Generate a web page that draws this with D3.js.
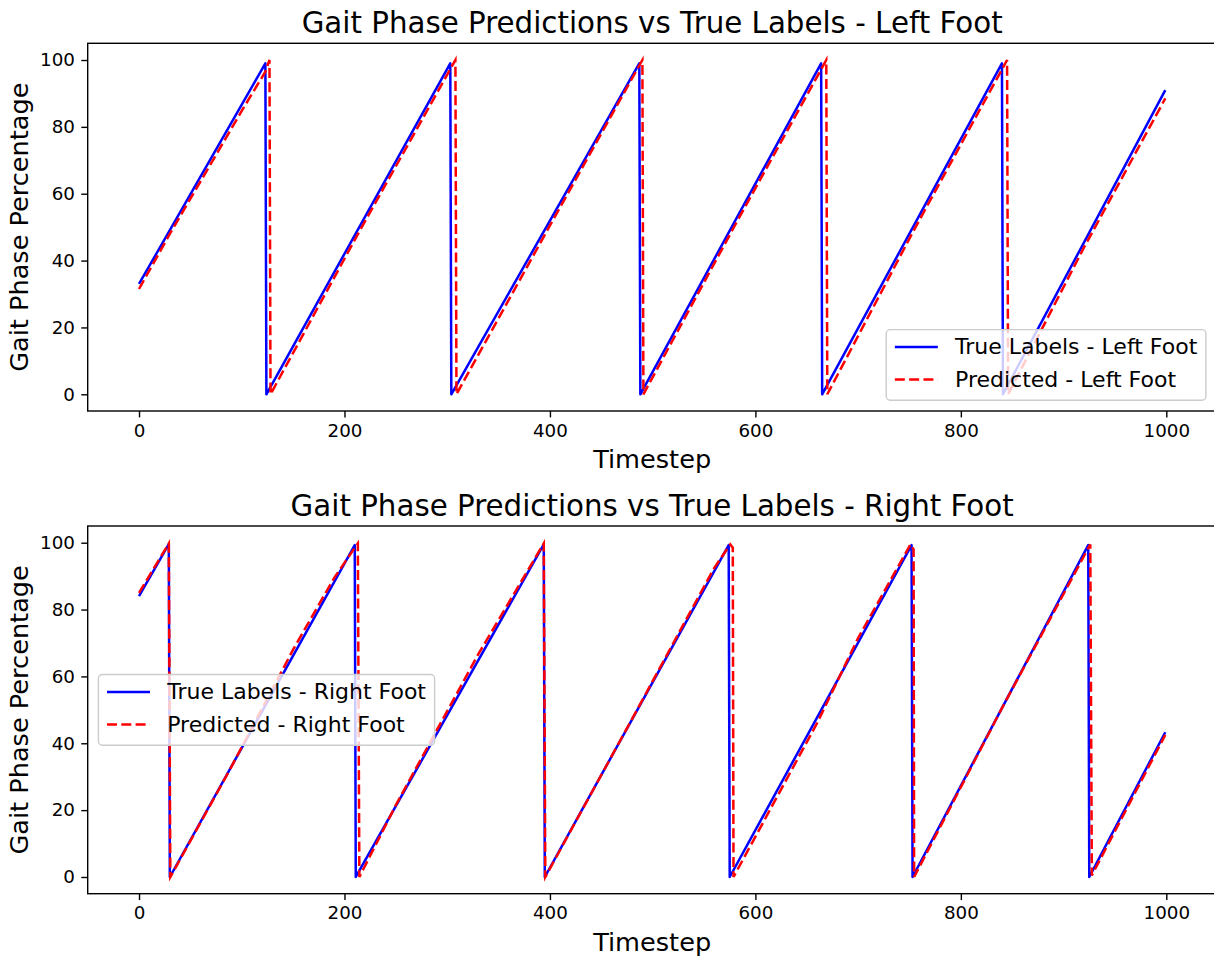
<!DOCTYPE html>
<html><head><meta charset="utf-8">
<script src="https://cdn.jsdelivr.net/npm/d3@7"></script>
<style>body{margin:0;background:#fff} text{font-family:"DejaVu Sans",sans-serif;fill:#000}</style>
</head><body><svg id="c" width="1214" height="959"></svg>
<script>
// ---- data (vertices of the plotted polylines) ----
const xTicks = [0, 200, 400, 600, 800, 1000];
const yTicks = [0, 20, 40, 60, 80, 100];

const leftTrueT = [0, 123, 124, 303, 304, 487, 488, 664, 665, 840, 841, 999];
const leftTrueV = [33, 99, 0, 99, 0, 99, 0, 99, 0, 99, 0, 91];
const leftPredT = [0, 30, 70, 100, 123, 127, 128, 215, 308, 309, 400, 490, 491, 580, 669, 670, 755, 845, 846, 920, 999];
const leftPredV = [31.5, 48, 69, 84.8, 96.5, 100, 0, 49, 100, 0, 50.5, 100, 0, 50.5, 100, 0, 49.5, 100, 0, 44, 88.5];

const rightTrueT = [0, 29, 30, 210, 211, 394, 395, 574, 575, 752, 753, 924, 925, 999];
const rightTrueV = [84, 99.6, 0, 99.3, 0, 99.5, 0, 99.3, 0, 99.3, 0, 99.3, 0, 43.3];
const rightPredT = [0, 29, 30.5, 90, 150, 190, 213, 214.5, 250, 330, 394, 395.5, 480, 560, 575.5, 578, 578.7, 660, 700, 751, 754, 754.5, 840, 926, 927.5, 999];
const rightPredV = [85, 99.8, 0, 33, 68, 89.5, 99.8, 0, 21.5, 66.5, 99.8, 0, 47.3, 92.5, 99.5, 98.5, 0, 46, 71.5, 99.5, 98, 0, 50.5, 99.5, 0.5, 42.5];

const xLabel = "Timestep";
const yLabel = "Gait Phase Percentage";

const panels = [
  {title: "Gait Phase Predictions vs True Labels - Left Foot", top: 43.3, bottom: 411,
   trueT: leftTrueT, trueV: leftTrueV, predT: leftPredT, predV: leftPredV,
   legend: ["True Labels - Left Foot", "Predicted - Left Foot"], legendLoc: "lower right"},
  {title: "Gait Phase Predictions vs True Labels - Right Foot", top: 526, bottom: 893.7,
   trueT: rightTrueT, trueV: rightTrueV, predT: rightPredT, predV: rightPredV,
   legend: ["True Labels - Right Foot", "Predicted - Right Foot"], legendLoc: "center left"}
];

const svg = d3.select("#c");
const left = 87.7, right = 1216.6;
const BLUE = "#0000ff", RED = "#ff0000";
const LW = 2.5, DASH = "10,4.3";
const legFont = 22;
const tickFont = 18.3;

panels.forEach(p => {
  const x = d3.scaleLinear().domain([-49.95, 1048.95]).range([left, right]);
  const y = d3.scaleLinear().domain([-5, 105]).range([p.bottom, p.top]);
  const g = svg.append("g");

  const styleAxis = a => {
    a.select(".domain").remove();
    a.selectAll("line").attr("stroke", "#000").attr("stroke-width", 1.4);
    a.selectAll("text").attr("font-size", tickFont).attr("font-family", "DejaVu Sans").attr("fill", "#000");
    a.attr("font-size", tickFont).attr("font-family", "DejaVu Sans");
  };
  const xa = g.append("g").attr("transform", `translate(0,${p.bottom})`)
    .call(d3.axisBottom(x).tickValues(xTicks).tickSize(6.4).tickPadding(6.4).tickFormat(d3.format("d")));
  styleAxis(xa);
  const ya = g.append("g").attr("transform", `translate(${left},0)`)
    .call(d3.axisLeft(y).tickValues(yTicks).tickSize(6.4).tickPadding(6.4).tickFormat(d3.format("d")));
  styleAxis(ya);

  const line = d3.line().x(d => x(d[0])).y(d => y(d[1]));
  const trueData = p.trueT.map((t, i) => [t, p.trueV[i]]);
  const predData = p.predT.map((t, i) => [t, p.predV[i]]);
  g.append("path").attr("d", line(trueData)).attr("fill", "none")
    .attr("stroke", BLUE).attr("stroke-width", LW).attr("stroke-linejoin", "round");
  g.append("path").attr("d", line(predData)).attr("fill", "none")
    .attr("stroke", RED).attr("stroke-width", LW).attr("stroke-dasharray", DASH);

  // spines
  g.append("rect").attr("x", left).attr("y", p.top).attr("width", right - left).attr("height", p.bottom - p.top)
    .attr("fill", "none").attr("stroke", "#000").attr("stroke-width", 1.4);

  // title
  g.append("text").attr("x", (left + right) / 2).attr("y", p.top - 10)
    .attr("text-anchor", "middle").attr("font-size", 29.3).text(p.title);
  // axis labels
  g.append("text").attr("x", (left + right) / 2).attr("y", p.bottom + 57)
    .attr("text-anchor", "middle").attr("font-size", 25.6).text(xLabel);
  g.append("text").attr("transform", `translate(28,${(p.top + p.bottom) / 2}) rotate(-90)`)
    .attr("text-anchor", "middle").attr("font-size", 25.6).text(yLabel);

  // legend
  const lg = g.append("g");
  const pad = 8.6, handle = 43, textPad = 17.2, rowGap = 32.6, boxH = 70.7;
  const frame = lg.append("rect").attr("rx", 4).attr("ry", 4)
    .attr("fill", "#fff").attr("fill-opacity", 0.8).attr("stroke", "#cccccc").attr("stroke-width", 1.4);
  const items = lg.append("g");
  let maxW = 0;
  p.legend.forEach((lab, i) => {
    const cy = 17.4 + i * rowGap;
    items.append("line").attr("x1", pad).attr("x2", pad + handle).attr("y1", cy).attr("y2", cy)
      .attr("stroke", i === 0 ? BLUE : RED).attr("stroke-width", LW)
      .attr("stroke-dasharray", i === 0 ? null : DASH);
    const t = items.append("text").attr("x", pad + handle + textPad).attr("y", cy)
      .attr("dominant-baseline", "central").attr("font-size", legFont).text(lab);
    maxW = Math.max(maxW, t.node().getComputedTextLength());
  });
  const boxW = pad + handle + textPad + maxW + pad;
  frame.attr("width", boxW).attr("height", boxH);
  let lx, ly;
  if (p.legendLoc === "lower right") { lx = right - 10.7 - boxW; ly = p.bottom - 10.7 - boxH; }
  else { lx = left + 10.7; ly = (p.top + p.bottom) / 2 - boxH / 2; }
  lg.attr("transform", `translate(${lx},${ly})`);
});
</script></body></html>
